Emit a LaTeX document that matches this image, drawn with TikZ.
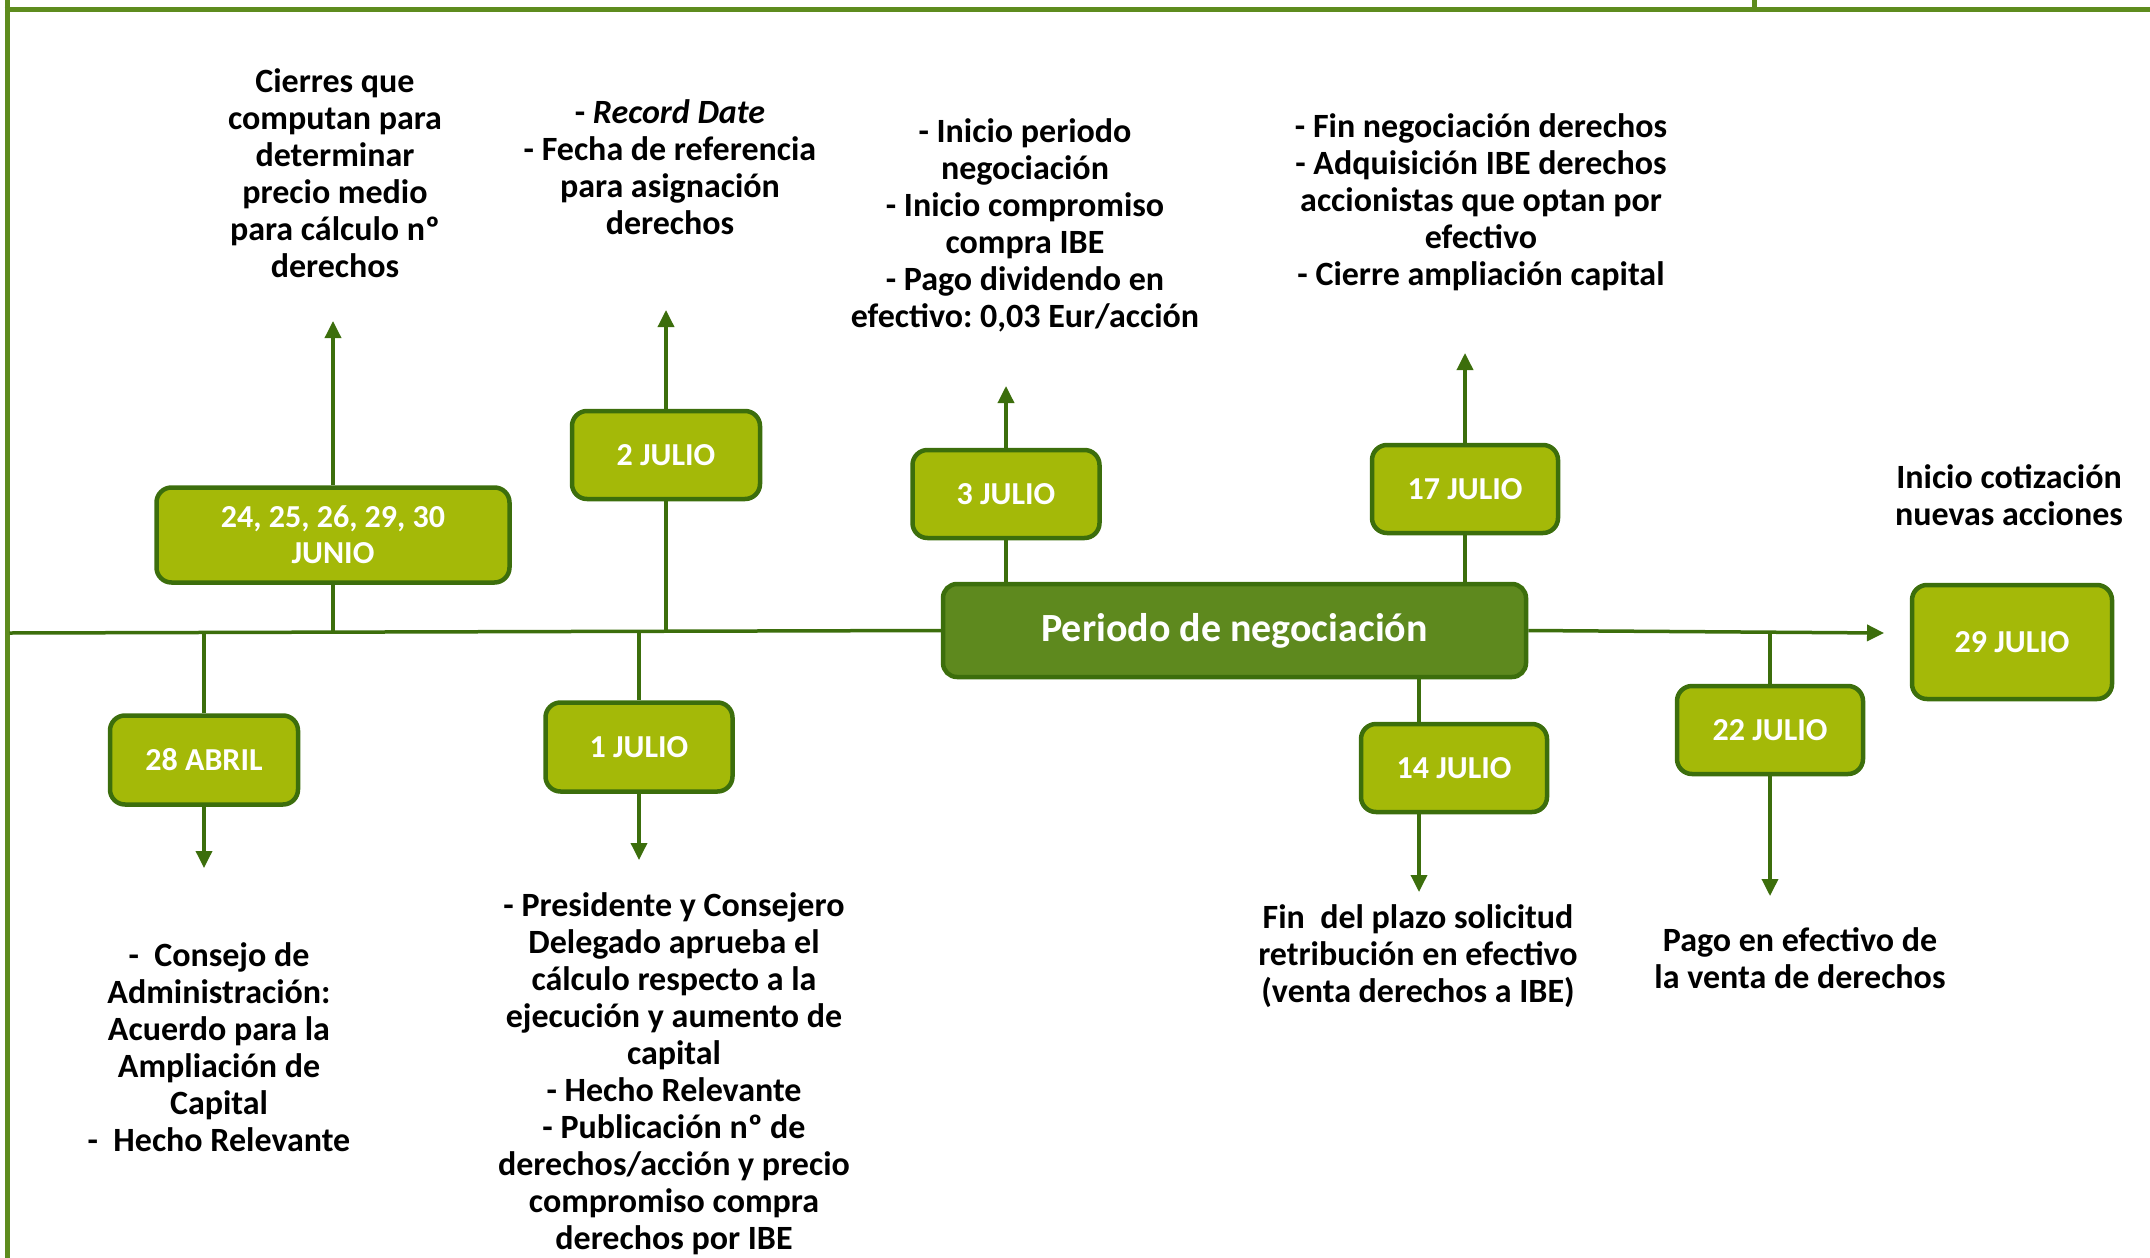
\documentclass[tikz,border=0pt]{standalone}
\usepackage{fontspec}
\setmainfont{Carlito}
\usetikzlibrary{arrows.meta}
\frenchspacing
\definecolor{limegr}{RGB}{164,185,8}
\definecolor{dkgreen}{RGB}{60,110,12}
\definecolor{midgreen}{RGB}{94,137,30}
\definecolor{framegreen}{RGB}{94,140,30}
\begin{document}
\begin{tikzpicture}[x=1pt,y=-1pt,
  datebox/.style={draw=dkgreen, line width=4.5pt, fill=limegr, rounded corners=15pt,
    text=white, font=\fontsize{32}{36}\selectfont\bfseries, align=center, inner sep=0pt},
  perbox/.style={draw=dkgreen, line width=4.5pt, fill=midgreen, rounded corners=14pt,
    text=white, font=\fontsize{40}{44}\selectfont\bfseries, align=center, inner sep=0pt},
  txt/.style={font=\fontsize{34}{37}\selectfont\bfseries, align=center, inner sep=0pt, text=black},
  conn/.style={draw=dkgreen, line width=3.5pt},
  arr/.style={conn, -{Triangle[length=17pt,width=16pt]}},
  framel/.style={draw=framegreen, line width=5pt}
]
\useasboundingbox (0,0) rectangle (2150,1258);
% frame
\draw[framel] (7,0) -- (7,1258);
\draw[framel] (4.5,9) -- (2150,9);
\draw[framel] (1754,0) -- (1754,9);

% timeline coordinates
\coordinate (tlstart) at (9.5,633);
\coordinate (tlend) at (1884,633);

% nodes
\node[datebox, minimum width=353pt, minimum height=95pt] (jun) at (333,535) {24, 25, 26, 29, 30\\JUNIO};
\node[datebox, minimum width=188pt, minimum height=89pt] (abr) at (204,760) {28 ABRIL};
\node[datebox, minimum width=188pt, minimum height=88pt] (j2) at (666,455) {2 JULIO};
\node[datebox, minimum width=187pt, minimum height=89pt] (j1) at (639,747) {1 JULIO};
\node[datebox, minimum width=187pt, minimum height=88pt] (j3) at (1006,494) {3 JULIO};
\node[perbox, minimum width=583pt, minimum height=93pt] (per) at (1234.5,630.5) {Periodo de negociación};
\node[datebox, minimum width=186pt, minimum height=88pt] (j17) at (1465,489) {17 JULIO};
\node[datebox, minimum width=186pt, minimum height=88pt] (j14) at (1454,768) {14 JULIO};
\node[datebox, minimum width=186pt, minimum height=88pt] (j22) at (1770,730) {22 JULIO};
\node[datebox, minimum width=200pt, minimum height=114pt] (j29) at (2012,642) {29 JULIO};

% texts
\node[txt] (tjun) at (335,173.5) {Cierres que\\computan para\\determinar\\precio medio\\para cálculo nº\\derechos};
\node[txt] (tj2) at (670,167) {- \textit{Record Date}\\- Fecha de referencia\\para asignación\\derechos};
\node[txt] (tj3) at (1025,225.5) {- Inicio periodo\\negociación\\- Inicio compromiso\\compra IBE\\- Pago dividendo en\\efectivo: 0,03 Eur/acción};
\node[txt] (tj17) at (1481,202.5) {- Fin negociación derechos\\- Adquisición IBE derechos\\accionistas que optan por\\efectivo\\- Cierre ampliación capital};
\node[txt] (tj29) at (2009,495) {Inicio cotización\\nuevas acciones};
\node[txt] (tabr) at (219,1047) {-\ \ Consejo de\\Administración:\\Acuerdo para la\\Ampliación de\\Capital\\-\ \ Hecho Relevante};
\node[txt] (tj1) at (674,1073.5) {- Presidente y Consejero\\Delegado aprueba el\\cálculo respecto a la\\ejecución y aumento de\\capital\\- Hecho Relevante\\- Publicación nº de\\derechos/acción y precio\\compromiso compra\\derechos por IBE};
\node[txt] (tj14) at (1418,956) {Fin\ \ del plazo solicitud\\retribución en efectivo\\(venta derechos a IBE)};
\node[txt] (tj22) at (1800,958.5) {Pago en efectivo de\\la venta de derechos};

% arrow end coordinates
\coordinate (ajun) at (333,321);
\coordinate (aabr) at (204,868);
\coordinate (aj2) at (666,310);
\coordinate (aj1) at (639,860);
\coordinate (aj3) at (1006,386);
\coordinate (aj17) at (1465,353);
\coordinate (aj14) at (1419,892);
\coordinate (aj22) at (1770,896);

% timeline
\draw[conn] (tlstart) -- (per.west);
\draw[arr] (per.east) -- (tlend);

% connectors
\draw[arr] (jun.north) -- (ajun);
\draw[conn] (jun.south) -- (jun.south |- tlstart);
\draw[conn] (abr.north |- tlstart) -- (abr.north);
\draw[arr] (abr.south) -- (aabr);
\draw[arr] (j2.north) -- (aj2);
\draw[conn] (j2.south) -- (j2.south |- tlstart);
\draw[conn] (j1.north |- tlstart) -- (j1.north);
\draw[arr] (j1.south) -- (aj1);
\draw[arr] (j3.north) -- (aj3);
\draw[conn] (j3.south) -- (j3.south |- per.north);
\draw[arr] (j17.north) -- (aj17);
\draw[conn] (j17.south) -- (j17.south |- per.north);
\draw[conn] (aj14 |- per.south) -- (aj14 |- j14.north);
\draw[arr] (aj14 |- j14.south) -- (aj14);
\draw[conn] (j22.north |- tlstart) -- (j22.north);
\draw[arr] (j22.south) -- (aj22);
\end{tikzpicture}
\end{document}
